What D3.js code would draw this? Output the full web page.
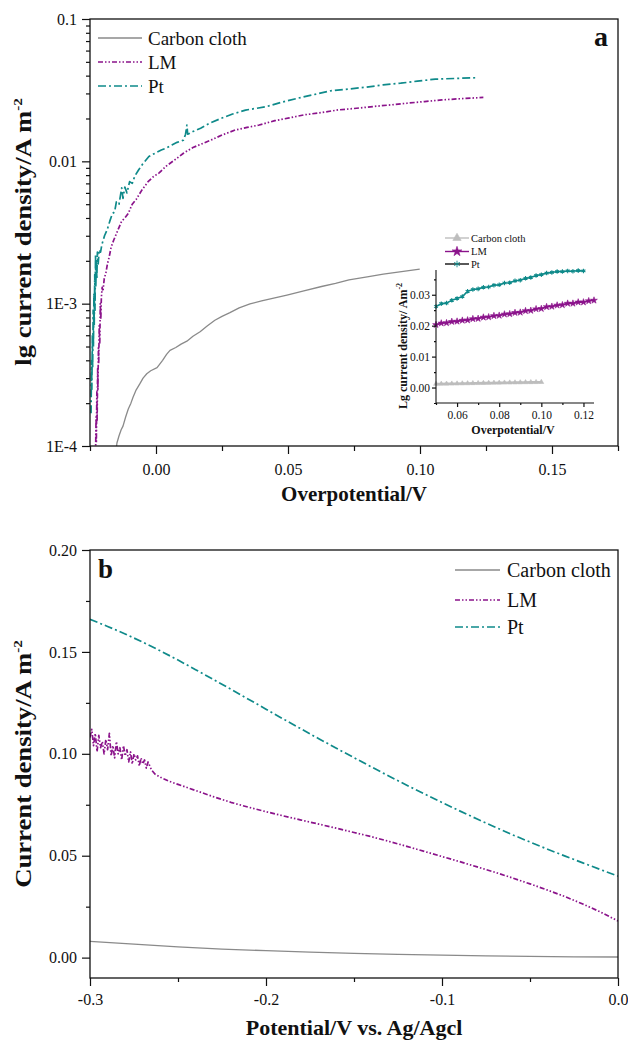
<!DOCTYPE html>
<html>
<head>
<meta charset="utf-8">
<script src="https://cdn.jsdelivr.net/npm/d3@7"></script>
<style>
  body { margin: 0; background: #fff; }
  svg { display: block; }
  text { font-family: "Liberation Serif", "Times New Roman", serif; fill: #111; }
</style>
</head>
<body>
<svg id="chart" width="628" height="1040"></svg>
<script>
// ---------- Panel a: Tafel plot (log current density vs overpotential) ----------
const seriesNames = ["Carbon cloth", "LM", "Pt"];

// [overpotential V, current density A m^-2]
const tafelCarbon = [
  [-0.0152, 0.000090], [-0.0148, 0.000105], [-0.0140, 0.000118], [-0.0132, 0.000130],
  [-0.0125, 0.000138], [-0.0115, 0.000160], [-0.0105, 0.000182], [-0.0095, 0.000200],
  [-0.0087, 0.000220], [-0.0075, 0.000248], [-0.0062, 0.000272], [-0.0049, 0.000300],
  [-0.0035, 0.000322], [-0.0020, 0.000338], [0.0004, 0.000355], [0.0025, 0.000400],
  [0.0040, 0.000440], [0.0053, 0.000470], [0.0075, 0.000492], [0.0095, 0.000520],
  [0.0117, 0.000545], [0.0140, 0.000590], [0.0167, 0.000635], [0.0195, 0.000700],
  [0.0223, 0.000765], [0.0250, 0.000815], [0.0280, 0.000865], [0.0315, 0.000935],
  [0.0356, 0.000995], [0.0400, 0.001045], [0.0450, 0.001100], [0.0496, 0.001150],
  [0.0560, 0.001230], [0.0627, 0.001320], [0.0680, 0.001390], [0.0731, 0.001470],
  [0.0800, 0.001540], [0.0861, 0.001610], [0.0930, 0.001680], [0.0999, 0.001750]
];

const tafelLM = [
  [-0.0229, 0.000085], [-0.0227, 0.000160], [-0.0226, 0.000105], [-0.0224, 0.000240],
  [-0.0223, 0.000150], [-0.0221, 0.000350], [-0.0220, 0.000250], [-0.0218, 0.000500],
  [-0.0217, 0.000380], [-0.0215, 0.000700], [-0.0213, 0.000520], [-0.0211, 0.001000],
  [-0.0209, 0.000780], [-0.0207, 0.001100], [-0.0204, 0.001300], [-0.0201, 0.001220],
  [-0.0196, 0.001500], [-0.0190, 0.001640], [-0.0184, 0.001900], [-0.0177, 0.002140],
  [-0.0170, 0.002500], [-0.0160, 0.002800], [-0.0144, 0.003300], [-0.0130, 0.003800],
  [-0.0118, 0.004000], [-0.0105, 0.004300], [-0.0090, 0.005000], [-0.0075, 0.005400],
  [-0.0053, 0.006300], [-0.0030, 0.007200], [-0.0010, 0.007800], [0.0012, 0.008300],
  [0.0040, 0.009300], [0.0070, 0.010200], [0.0104, 0.011400], [0.0140, 0.012500],
  [0.0175, 0.013300], [0.0208, 0.014100], [0.0250, 0.015300], [0.0300, 0.016600],
  [0.0345, 0.017300], [0.0391, 0.018000], [0.0450, 0.019300], [0.0505, 0.020200],
  [0.0561, 0.021200], [0.0625, 0.022000], [0.0692, 0.023000], [0.0760, 0.023600],
  [0.0825, 0.024300], [0.0888, 0.024900], [0.0950, 0.025600], [0.1017, 0.026300],
  [0.1083, 0.027000], [0.1160, 0.027600], [0.1240, 0.028100]
];

const tafelPt = [
  [-0.0246, 0.000170], [-0.0244, 0.000400], [-0.0243, 0.000250], [-0.0241, 0.000600],
  [-0.0240, 0.000350], [-0.0238, 0.000900], [-0.0237, 0.000500], [-0.0235, 0.001200],
  [-0.0234, 0.000700], [-0.0232, 0.001600], [-0.0231, 0.000900], [-0.0229, 0.002200],
  [-0.0228, 0.001300], [-0.0226, 0.002000], [-0.0224, 0.001500], [-0.0222, 0.002300],
  [-0.0219, 0.001900], [-0.0215, 0.002400], [-0.0210, 0.002300], [-0.0205, 0.002600],
  [-0.0195, 0.003000], [-0.0185, 0.003300], [-0.0175, 0.003800], [-0.0165, 0.004300],
  [-0.0157, 0.004400], [-0.0150, 0.005200], [-0.0140, 0.005000], [-0.0130, 0.006500],
  [-0.0125, 0.005500], [-0.0118, 0.006600], [-0.0110, 0.006000], [-0.0100, 0.007200],
  [-0.0090, 0.007000], [-0.0080, 0.007900], [-0.0066, 0.008700], [-0.0050, 0.009600],
  [-0.0027, 0.010800], [0.0000, 0.011500], [0.0020, 0.012000], [0.0039, 0.012400],
  [0.0060, 0.013000], [0.0080, 0.013600], [0.0104, 0.014100], [0.0112, 0.015500],
  [0.0117, 0.018000], [0.0120, 0.015500], [0.0140, 0.016200], [0.0169, 0.017100],
  [0.0200, 0.018400], [0.0248, 0.020100], [0.0290, 0.021500], [0.0339, 0.022900],
  [0.0417, 0.024200], [0.0475, 0.026000], [0.0535, 0.027700], [0.0600, 0.029500],
  [0.0666, 0.031400], [0.0730, 0.032200], [0.0796, 0.033200], [0.0860, 0.034400],
  [0.0927, 0.035400], [0.0990, 0.036600], [0.1058, 0.037800], [0.1130, 0.038200],
  [0.1214, 0.038700]
];

const aMajorY = [1e-4, 1e-3, 1e-2, 1e-1];
const aMajorYLabels = ["1E-4", "1E-3", "0.01", "0.1"];
const aMajorX = [0.00, 0.05, 0.10, 0.15];
const aMajorXLabels = ["0.00", "0.05", "0.10", "0.15"];
const aMinorX = [-0.025, 0.025, 0.075, 0.125, 0.175];

// ---------- Inset: linear view of the high-overpotential region ----------
const insetCarbon = [
  [0.0500, 0.00115], [0.0525, 0.00118], [0.0550, 0.00121], [0.0575, 0.00124], [0.0600, 0.00127],
  [0.0625, 0.00131], [0.0650, 0.00134], [0.0675, 0.00138], [0.0700, 0.00141], [0.0725, 0.00145],
  [0.0750, 0.00148], [0.0775, 0.00151], [0.0800, 0.00154], [0.0825, 0.00157], [0.0850, 0.00159],
  [0.0875, 0.00162], [0.0900, 0.00165], [0.0925, 0.00168], [0.0950, 0.00170], [0.0975, 0.00173],
  [0.1000, 0.00175]
];
const insetLM = [
  [0.0500, 0.0203], [0.0525, 0.0208], [0.0550, 0.0209], [0.0575, 0.0213], [0.0600, 0.0214],
  [0.0625, 0.0217], [0.0650, 0.0218], [0.0675, 0.0222], [0.0700, 0.0223], [0.0725, 0.0227],
  [0.0750, 0.0228], [0.0775, 0.0232], [0.0800, 0.0233], [0.0825, 0.0237], [0.0850, 0.0238],
  [0.0875, 0.0242], [0.0900, 0.0243], [0.0925, 0.0248], [0.0950, 0.0249], [0.0975, 0.0254],
  [0.1000, 0.0255], [0.1025, 0.0261], [0.1050, 0.0262], [0.1075, 0.0266], [0.1100, 0.0267],
  [0.1125, 0.0272], [0.1150, 0.0272], [0.1175, 0.0276], [0.1200, 0.0276], [0.1225, 0.0280],
  [0.1250, 0.0282]
];
const insetPt = [
  [0.0500, 0.0262], [0.0525, 0.0271], [0.0550, 0.0273], [0.0575, 0.0282], [0.0600, 0.0288],
  [0.0625, 0.0294], [0.0650, 0.0311], [0.0675, 0.0317], [0.0700, 0.0319], [0.0725, 0.0324],
  [0.0750, 0.0325], [0.0775, 0.0331], [0.0800, 0.0332], [0.0825, 0.0338], [0.0850, 0.0339],
  [0.0875, 0.0345], [0.0900, 0.0347], [0.0925, 0.0353], [0.0950, 0.0356], [0.0975, 0.0362],
  [0.1000, 0.0365], [0.1025, 0.0370], [0.1050, 0.0372], [0.1075, 0.0375], [0.1100, 0.0375],
  [0.1125, 0.0377], [0.1150, 0.0376], [0.1175, 0.0378], [0.1200, 0.0377]
];
const insetMajorX = [0.06, 0.08, 0.10, 0.12];
const insetMinorX = [0.05, 0.07, 0.09, 0.11];
const insetMajorY = [0.00, 0.01, 0.02, 0.03];
const insetMinorY = [-0.005, 0.005, 0.015, 0.025, 0.035];

// ---------- Panel b: LSV (current density vs potential) ----------
const lsvCarbon = [
  [-0.300, 0.0080], [-0.275, 0.0066], [-0.250, 0.0053], [-0.225, 0.0042], [-0.200, 0.0034],
  [-0.175, 0.0027], [-0.150, 0.0021], [-0.125, 0.0016], [-0.100, 0.0012], [-0.075, 0.0009],
  [-0.050, 0.0006], [-0.025, 0.0004], [0.000, 0.0003]
];
const lsvLM = [
  [-0.3000, 0.108], [-0.2990, 0.112], [-0.2980, 0.104], [-0.2970, 0.110], [-0.2960, 0.101],
  [-0.2950, 0.109], [-0.2940, 0.103], [-0.2930, 0.106], [-0.2920, 0.100], [-0.2910, 0.107],
  [-0.2900, 0.102], [-0.2890, 0.110], [-0.2880, 0.099], [-0.2870, 0.104], [-0.2860, 0.098],
  [-0.2850, 0.106], [-0.2840, 0.100], [-0.2830, 0.103], [-0.2820, 0.097], [-0.2810, 0.104],
  [-0.2800, 0.099], [-0.2790, 0.102], [-0.2780, 0.096], [-0.2770, 0.101], [-0.2760, 0.095],
  [-0.2750, 0.100], [-0.2740, 0.097], [-0.2730, 0.099], [-0.2720, 0.094], [-0.2710, 0.098],
  [-0.2700, 0.095], [-0.2690, 0.097], [-0.2680, 0.093], [-0.2670, 0.096], [-0.2660, 0.094],
  [-0.2650, 0.092], [-0.2630, 0.0900], [-0.2600, 0.0885], [-0.2550, 0.0865], [-0.2500, 0.0850],
  [-0.2400, 0.0820], [-0.2300, 0.0790], [-0.2200, 0.0762], [-0.2100, 0.0738], [-0.2000, 0.0716],
  [-0.1900, 0.0695], [-0.1800, 0.0675], [-0.1700, 0.0655], [-0.1600, 0.0635], [-0.1500, 0.0614],
  [-0.1400, 0.0593], [-0.1300, 0.0570], [-0.1200, 0.0546], [-0.1100, 0.0521], [-0.1000, 0.0496],
  [-0.0900, 0.0471], [-0.0800, 0.0445], [-0.0700, 0.0419], [-0.0600, 0.0391], [-0.0500, 0.0362],
  [-0.0400, 0.0331], [-0.0300, 0.0299], [-0.0200, 0.0263], [-0.0100, 0.0224], [0.0000, 0.0180]
];
const lsvPt = [
  [-0.300, 0.166], [-0.290, 0.1625], [-0.280, 0.1588], [-0.270, 0.1548], [-0.260, 0.1505],
  [-0.250, 0.1460], [-0.240, 0.1413], [-0.230, 0.1365], [-0.220, 0.1317], [-0.210, 0.1268],
  [-0.200, 0.1219], [-0.190, 0.1170], [-0.180, 0.1122], [-0.170, 0.1074], [-0.160, 0.1027],
  [-0.150, 0.0981], [-0.140, 0.0935], [-0.130, 0.0890], [-0.120, 0.0846], [-0.110, 0.0803],
  [-0.100, 0.0761], [-0.090, 0.0720], [-0.080, 0.0680], [-0.070, 0.0641], [-0.060, 0.0603],
  [-0.050, 0.0567], [-0.040, 0.0532], [-0.030, 0.0498], [-0.020, 0.0465], [-0.010, 0.0432],
  [0.000, 0.0400]
];
const bMajorX = [-0.3, -0.2, -0.1, 0.0];
const bMajorXLabels = ["-0.3", "-0.2", "-0.1", "0.0"];
const bMinorX = [-0.25, -0.15, -0.05];
const bMajorY = [0.00, 0.05, 0.10, 0.15, 0.20];
const bMinorY = [0.025, 0.075, 0.125, 0.175];

// ---------- styling ----------
const colors = { "Carbon cloth": "#8a8a8a", "LM": "#8b138b", "Pt": "#0f8a8a" };
const dashes = { "Carbon cloth": null, "LM": "5,2,1.5,2,1.5,2", "Pt": "8,3,2,3" };
const widths = { "Carbon cloth": 1.3, "LM": 1.7, "Pt": 1.7 };

const svg = d3.select("#chart");

function styleAxis(g, fontSize) {
  g.select(".domain").remove();
  g.selectAll("line").attr("stroke", "#111").attr("stroke-width", 1.2);
  g.selectAll("text").attr("font-size", fontSize).attr("fill", "#111")
    .attr("font-family", "'Liberation Serif', serif");
}

function frame(x0, x1, y0, y1) {
  svg.append("rect").attr("x", x0).attr("y", y0).attr("width", x1 - x0).attr("height", y1 - y0)
    .attr("fill", "none").attr("stroke", "#111").attr("stroke-width", 1.3);
}

// vertical axis title, slightly elongated along its reading direction
function yTitle(cx, cy, main) {
  const t = svg.append("text").attr("transform", `translate(${cx},${cy}) scale(1,1.16) rotate(-90)`)
    .attr("text-anchor", "middle").attr("font-size", 23).attr("font-weight", "bold");
  t.append("tspan").text(main);
  t.append("tspan").attr("dy", -9).attr("font-size", 13).text("-2");
}

// ================= Panel a =================
const ax = d3.scaleLinear().domain([-0.025, 0.175]).range([90, 618]);
const ay = d3.scaleLog().domain([1e-4, 0.1]).range([446, 19]);

const defs = svg.append("defs");
defs.append("clipPath").attr("id", "clipA")
  .append("rect").attr("x", 90).attr("y", 19).attr("width", 528).attr("height", 427);
defs.append("clipPath").attr("id", "clipB")
  .append("rect").attr("x", 90).attr("y", 550).attr("width", 528).attr("height", 428);

const lineA = d3.line().x(d => ax(d[0])).y(d => ay(d[1]));
const gA = svg.append("g").attr("clip-path", "url(#clipA)");
const tafel = { "Carbon cloth": tafelCarbon, "LM": tafelLM, "Pt": tafelPt };
seriesNames.forEach(n => {
  gA.append("path").datum(tafel[n]).attr("d", lineA)
    .attr("fill", "none").attr("stroke", colors[n]).attr("stroke-width", widths[n])
    .attr("stroke-dasharray", dashes[n]).attr("stroke-linejoin", "round");
});

// axes a
const aMinorY = [];
[1e-4, 1e-3, 1e-2].forEach(dec => { for (let k = 2; k <= 9; k++) aMinorY.push(dec * k); });

svg.append("g").attr("transform", "translate(90,0)")
  .call(d3.axisLeft(ay).tickValues(aMinorY).tickSize(4).tickFormat(""))
  .call(g => styleAxis(g, 16));
svg.append("g").attr("transform", "translate(90,0)")
  .call(d3.axisLeft(ay).tickValues(aMajorY).tickSize(8).tickPadding(5)
    .tickFormat((d, i) => aMajorYLabels[i]))
  .call(g => styleAxis(g, 16));
svg.append("g").attr("transform", "translate(0,446)")
  .call(d3.axisBottom(ax).tickValues(aMinorX).tickSize(5).tickFormat(""))
  .call(g => styleAxis(g, 16));
svg.append("g").attr("transform", "translate(0,446)")
  .call(d3.axisBottom(ax).tickValues(aMajorX).tickSize(8).tickPadding(10)
    .tickFormat((d, i) => aMajorXLabels[i]))
  .call(g => styleAxis(g, 16));
frame(90, 618, 19, 446);

// titles a
svg.append("text").attr("x", 354).attr("y", 501).attr("text-anchor", "middle")
  .attr("font-size", 21).attr("font-weight", "bold").text("Overpotential/V");
yTitle(31, 232, "lg current density/A m");
svg.append("text").attr("x", 601).attr("y", 46).attr("text-anchor", "middle")
  .attr("font-size", 28).attr("font-weight", "bold").text("a");

// legend a
const legAy = [38, 62, 86];
seriesNames.forEach((n, i) => {
  svg.append("line").attr("x1", 98).attr("x2", 142).attr("y1", legAy[i]).attr("y2", legAy[i])
    .attr("stroke", colors[n]).attr("stroke-width", widths[n]).attr("stroke-dasharray", dashes[n]);
  svg.append("text").attr("x", 148).attr("y", legAy[i] + 6.5).attr("font-size", 19).text(n);
});

// ================= Inset =================
const ix = d3.scaleLinear().domain([0.05, 0.125]).range([436, 594]);
const iy = d3.scaleLinear().domain([-0.005, 0.038]).range([403, 270]);
const lineI = d3.line().x(d => ix(d[0])).y(d => iy(d[1]));
const insetData = { "Carbon cloth": insetCarbon, "LM": insetLM, "Pt": insetPt };
const insetColors = { "Carbon cloth": "#bdbdbd", "LM": "#8b138b", "Pt": "#0f8a8a" };
const insetSymbols = { "Carbon cloth": d3.symbolTriangle, "LM": d3.symbolStar, "Pt": d3.symbolAsterisk };
const gI = svg.append("g");
seriesNames.forEach(n => {
  gI.append("path").datum(insetData[n]).attr("d", lineI)
    .attr("fill", "none").attr("stroke", insetColors[n]).attr("stroke-width", n === "Carbon cloth" ? 2.4 : 1.6);
  const sym = d3.symbol().type(insetSymbols[n]).size(n === "Carbon cloth" ? 10 : 14);
  gI.selectAll(null).data(insetData[n]).enter().append("path")
    .attr("transform", d => `translate(${ix(d[0])},${iy(d[1])})`)
    .attr("d", sym)
    .attr("fill", n === "Pt" ? "none" : insetColors[n])
    .attr("stroke", insetColors[n]).attr("stroke-width", n === "Pt" ? 1.1 : 0.6);
});

svg.append("g").attr("transform", "translate(436,0)")
  .call(d3.axisLeft(iy).tickValues(insetMinorY).tickSize(2).tickFormat(""))
  .call(g => styleAxis(g, 11));
svg.append("g").attr("transform", "translate(436,0)")
  .call(d3.axisLeft(iy).tickValues(insetMajorY).tickSize(4).tickPadding(2).tickFormat(d3.format(".2f")))
  .call(g => styleAxis(g, 11.5));
svg.append("g").attr("transform", "translate(0,403)")
  .call(d3.axisBottom(ix).tickValues(insetMinorX).tickSize(2).tickFormat(""))
  .call(g => styleAxis(g, 11));
svg.append("g").attr("transform", "translate(0,403)")
  .call(d3.axisBottom(ix).tickValues(insetMajorX).tickSize(4).tickPadding(4).tickFormat(d3.format(".2f")))
  .call(g => styleAxis(g, 11.5));
const insetAxes = svg.append("g").attr("stroke", "#111").attr("stroke-width", 1.1);
insetAxes.append("line").attr("x1", 436).attr("x2", 436).attr("y1", 270).attr("y2", 403);
insetAxes.append("line").attr("x1", 436).attr("x2", 594).attr("y1", 403).attr("y2", 403);

svg.append("text").attr("x", 513).attr("y", 434).attr("text-anchor", "middle")
  .attr("font-size", 12).attr("font-weight", "bold").text("Overpotential/V");
const tI = svg.append("text").attr("transform", "translate(407,346) rotate(-90)")
  .attr("text-anchor", "middle").attr("font-size", 12).attr("font-weight", "bold");
tI.append("tspan").text("Lg current density/ Am");
tI.append("tspan").attr("dy", -5).attr("font-size", 8).text("-2");

// inset legend
const legIy = [238, 251.5, 264];
const legIlineColor = { "Carbon cloth": "#bdbdbd", "LM": "#8b138b", "Pt": "#111" };
seriesNames.forEach((n, i) => {
  svg.append("line").attr("x1", 445).attr("x2", 469).attr("y1", legIy[i]).attr("y2", legIy[i])
    .attr("stroke", legIlineColor[n]).attr("stroke-width", 1.4);
  svg.append("path").attr("transform", `translate(457,${legIy[i]})`)
    .attr("d", d3.symbol().type(insetSymbols[n]).size(30))
    .attr("fill", n === "Pt" ? "none" : insetColors[n]).attr("stroke", insetColors[n])
    .attr("stroke-width", n === "Pt" ? 0.9 : 0.6);
  svg.append("text").attr("x", 471).attr("y", legIy[i] + 3.5).attr("font-size", 10.5).text(n);
});

// ================= Panel b =================
const bx = d3.scaleLinear().domain([-0.3, 0.0]).range([90, 618]);
const by = d3.scaleLinear().domain([-0.01, 0.20]).range([978, 550]);
const lineB = d3.line().x(d => bx(d[0])).y(d => by(d[1]));
const lsv = { "Carbon cloth": lsvCarbon, "LM": lsvLM, "Pt": lsvPt };
const gB = svg.append("g").attr("clip-path", "url(#clipB)");
seriesNames.forEach(n => {
  gB.append("path").datum(lsv[n]).attr("d", lineB)
    .attr("fill", "none").attr("stroke", colors[n]).attr("stroke-width", widths[n])
    .attr("stroke-dasharray", dashes[n]).attr("stroke-linejoin", "round");
});

svg.append("g").attr("transform", "translate(90,0)")
  .call(d3.axisLeft(by).tickValues(bMinorY).tickSize(4).tickFormat(""))
  .call(g => styleAxis(g, 16));
svg.append("g").attr("transform", "translate(90,0)")
  .call(d3.axisLeft(by).tickValues(bMajorY).tickSize(8).tickPadding(5).tickFormat(d3.format(".2f")))
  .call(g => styleAxis(g, 16));
svg.append("g").attr("transform", "translate(0,978)")
  .call(d3.axisBottom(bx).tickValues(bMinorX).tickSize(4).tickFormat(""))
  .call(g => styleAxis(g, 16));
svg.append("g").attr("transform", "translate(0,978)")
  .call(d3.axisBottom(bx).tickValues(bMajorX).tickSize(8).tickPadding(8)
    .tickFormat((d, i) => bMajorXLabels[i]))
  .call(g => styleAxis(g, 16));
frame(90, 618, 550, 978);

svg.append("text").attr("x", 354).attr("y", 1035).attr("text-anchor", "middle")
  .attr("font-size", 22).attr("font-weight", "bold").text("Potential/V vs. Ag/Agcl");
yTitle(31, 764, "Current density/A m");
svg.append("text").attr("x", 98).attr("y", 578).attr("font-size", 27).attr("font-weight", "bold").text("b");

// legend b
const legBy = [570, 600, 627];
seriesNames.forEach((n, i) => {
  svg.append("line").attr("x1", 455).attr("x2", 500).attr("y1", legBy[i]).attr("y2", legBy[i])
    .attr("stroke", colors[n]).attr("stroke-width", widths[n]).attr("stroke-dasharray", dashes[n]);
  svg.append("text").attr("x", 507).attr("y", legBy[i] + 7).attr("font-size", 20).text(n);
});
</script>
</body>
</html>
